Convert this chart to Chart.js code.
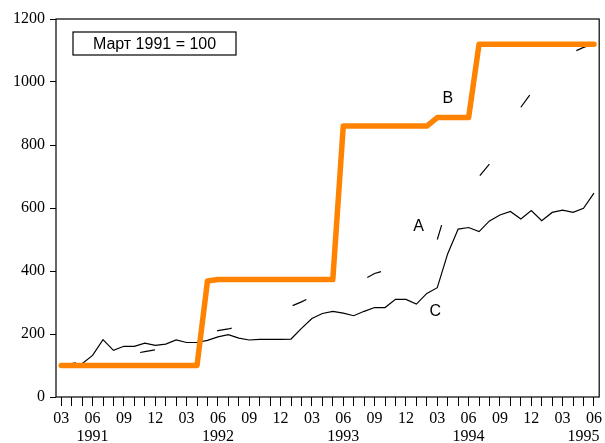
<!DOCTYPE html>
<html>
<head>
<meta charset="utf-8">
<script src="https://cdn.jsdelivr.net/npm/chart.js@4"></script>
<style>
  html, body { margin: 0; padding: 0; background: #fff; }
  canvas { display: block; }
</style>
</head>
<body>
<canvas id="chart" width="605" height="443"></canvas>
<script>
/* Индексы: Март 1991 = 100, помесячно 03.1991 – 06.1995 */

const months = [
  '03','04','05','06','07','08','09','10','11','12',            // 1991
  '01','02','03','04','05','06','07','08','09','10','11','12',  // 1992
  '01','02','03','04','05','06','07','08','09','10','11','12',  // 1993
  '01','02','03','04','05','06','07','08','09','10','11','12',  // 1994
  '01','02','03','04','05','06'                                 // 1995
];

// year captions and the month index they sit under
const years = ['1991', '1992', '1993', '1994', '1995'];
const yearAt = [3, 15, 27, 39, 50];

const yTicks = [0, 200, 400, 600, 800, 1000, 1200];

// B — thick orange step line
const seriesB = [
  100, 100, 100, 100, 100, 100, 100, 100, 100, 100,
  100, 100, 100, 100, 368, 373, 373, 373, 373, 373, 373, 373,
  373, 373, 373, 373, 373, 860, 860, 860, 860, 860, 860, 860,
  860, 860, 887, 887, 887, 887, 1120, 1120, 1120, 1120, 1120, 1120,
  1120, 1120, 1120, 1120, 1120, 1120
];

// C — thin solid line
const seriesC = [
  100, 100, 106, 132, 182, 148, 161, 161, 171, 164,
  168, 181, 173, 173, 180, 191, 198, 187, 181, 183, 183, 183,
  184, 218, 249, 265, 272, 266, 258, 272, 284, 284, 310, 310,
  295, 329, 347, 455, 533, 538, 525, 559, 578, 589, 565, 592,
  560, 586, 593, 586, 599, 647
];

// A — sparse dashed line
const seriesA = [
  100, 106, 112, 118, 124, 129, 134, 138, 144, 150,
  160, 170, 180, 192, 204, 211, 216, 225, 235, 248, 262, 276,
  288, 302, 318, 333, 345, 355, 364, 374, 392, 402, 418, 438,
  460, 480, 500, 610, 650, 680, 700, 740, 790, 850, 920, 965,
  1000, 1040, 1070, 1095, 1110, 1120
];

// series letters: text, month index, value
const markLabels = [
  { text: 'A', at: 34.2, value: 540 },
  { text: 'B', at: 37.0, value: 946 },
  { text: 'C', at: 35.8, value: 272 }
];

const baseText = 'Март 1991 = 100';

const SERIF = "'Liberation Serif', 'DejaVu Serif', serif";
const SANS = "'Liberation Sans', Arial, sans-serif";

const decorPlugin = {
  id: 'decor',
  beforeDatasetsDraw(chart) {
    const { ctx, chartArea: a } = chart;
    ctx.save();
    ctx.strokeStyle = '#000';
    ctx.lineWidth = 1.2;
    ctx.strokeRect(a.left, a.top, a.right - a.left, a.bottom - a.top);
    ctx.restore();
  },
  afterDraw(chart) {
    const { ctx, chartArea: a, scales: { x, y } } = chart;
    ctx.save();

    // years under the month labels
    ctx.fillStyle = '#000';
    ctx.font = '16px ' + SERIF;
    ctx.textAlign = 'center';
    ctx.textBaseline = 'middle';
    years.forEach((yr, i) => {
      ctx.fillText(yr, x.getPixelForValue(yearAt[i]), a.bottom + 40);
    });

    // A / B / C letters
    ctx.font = '16px ' + SANS;
    markLabels.forEach(m => {
      ctx.fillText(m.text, x.getPixelForValue(m.at), y.getPixelForValue(m.value));
    });

    // base period box
    const bx = a.left + 17, by = a.top + 13, bw = 163, bh = 23;
    ctx.fillStyle = '#fff';
    ctx.fillRect(bx, by, bw, bh);
    ctx.strokeStyle = '#000';
    ctx.lineWidth = 1.2;
    ctx.strokeRect(bx, by, bw, bh);
    ctx.fillStyle = '#000';
    ctx.font = '16px ' + SANS;
    ctx.fillText(baseText, bx + bw / 2, by + bh / 2 + 1);

    ctx.restore();
  }
};

new Chart(document.getElementById('chart'), {
  type: 'line',
  data: {
    labels: months,
    datasets: [
      {
        label: 'B',
        data: seriesB,
        borderColor: 'rgb(255, 130, 0)',
        borderWidth: 5.5,
        borderCapStyle: 'round',
        borderJoinStyle: 'round',
        pointRadius: 0,
        tension: 0
      },
      {
        label: 'C',
        data: seriesC,
        borderColor: '#000',
        borderWidth: 1.2,
        pointRadius: 0,
        tension: 0
      },
      {
        label: 'A',
        data: seriesA,
        borderColor: '#000',
        borderWidth: 1.2,
        borderDash: [15, 65],
        borderDashOffset: 0,
        pointRadius: 0,
        tension: 0
      }
    ]
  },
  options: {
    responsive: false,
    animation: false,
    layout: { padding: { left: 0, right: 4, top: 19, bottom: 0 } },
    plugins: {
      legend: { display: false },
      tooltip: { enabled: false }
    },
    scales: {
      x: {
        type: 'category',
        offset: true,
        afterFit(scale) { scale.height = 46; },
        border: { display: false },
        grid: {
          offset: false,
          drawOnChartArea: false,
          drawTicks: true,
          tickLength: 9,
          color: '#000',
          lineWidth: 1
        },
        ticks: {
          autoSkip: false,
          maxRotation: 0,
          padding: 3,
          color: '#000',
          font: { family: SERIF, size: 16 },
          callback: (val, i) => (i % 3 === 0 ? months[i] : '')
        }
      },
      y: {
        min: 0,
        max: 1200,
        afterFit(scale) { scale.width = 56; },
        afterBuildTicks(scale) { scale.ticks = yTicks.map(v => ({ value: v })); },
        border: { display: false },
        grid: {
          drawOnChartArea: false,
          drawTicks: true,
          tickLength: 6,
          color: '#000',
          lineWidth: 1
        },
        ticks: {
          padding: 5,
          color: '#000',
          font: { family: SERIF, size: 16 },
          callback: v => String(v)
        }
      }
    }
  },
  plugins: [decorPlugin]
});
</script>
</body>
</html>
